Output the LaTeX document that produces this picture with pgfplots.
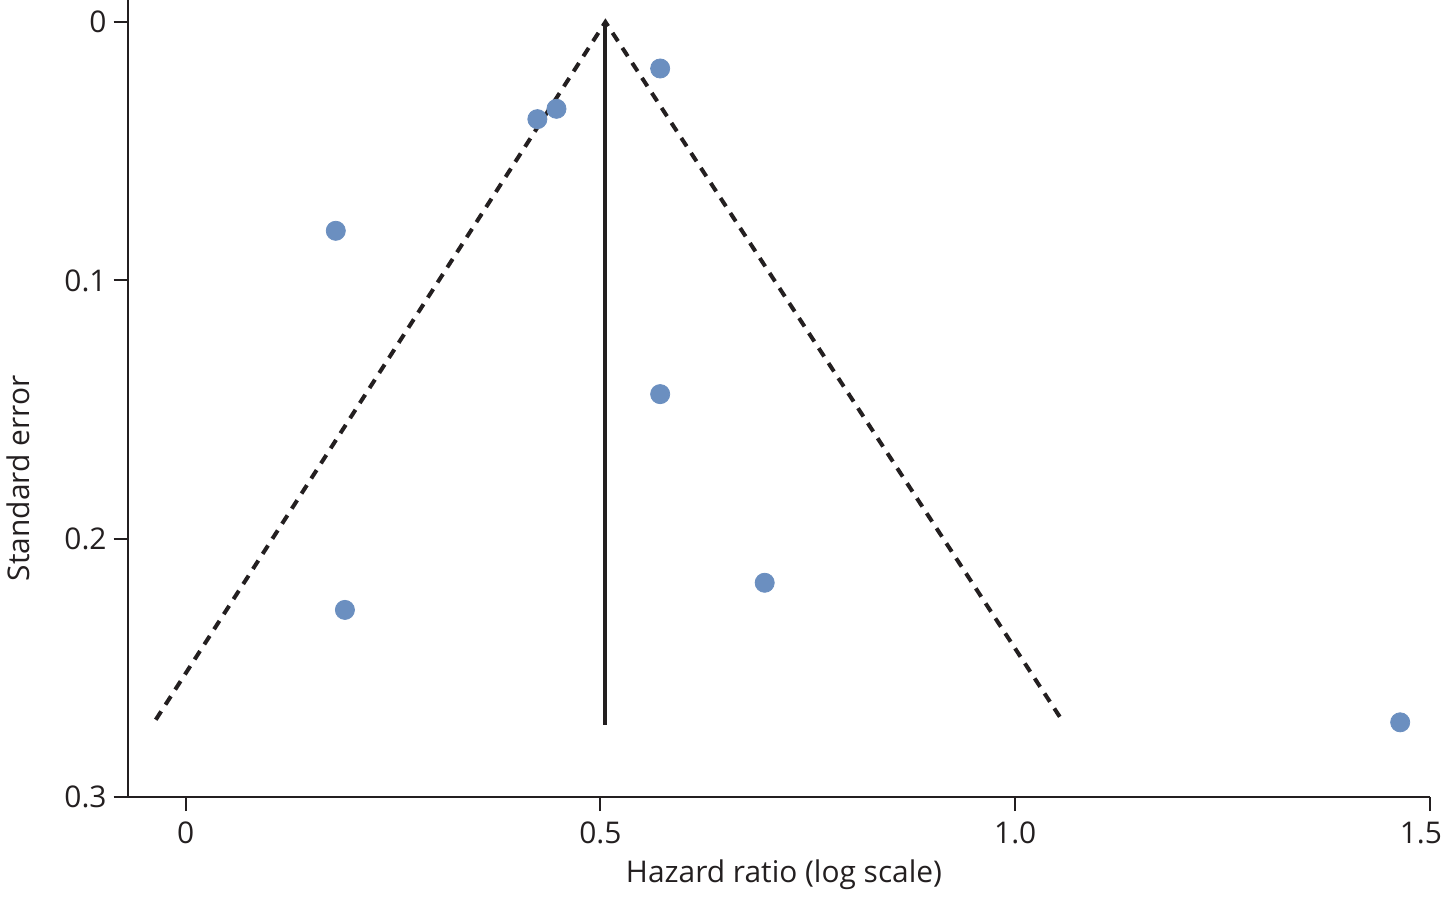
\documentclass[border=0pt]{standalone}
\usepackage{pgfplots}
\pgfplotsset{compat=1.18}
\usepackage{fontspec}
\setmainfont{Open Sans}
\definecolor{dot}{HTML}{6B8FC0}
\definecolor{ax}{HTML}{231F20}
\begin{document}
\begin{tikzpicture}
\begin{axis}[
  name=ax,
  scale only axis,
  width=653.5pt, height=400pt,
  xmin=-0.070, xmax=1.5,
  ymin=-0.0085, ymax=0.3,
  y dir=reverse,
  axis x line*=bottom,
  axis y line*=left,
  axis line style={ax, line width=1pt, -},
  xtick={0,0.5,1,1.5}, xticklabels={0,0.5,1.0,\makebox[12pt][r]{1.5}},
  ytick={0,0.1,0.2,0.3}, yticklabels={0,0.1,0.2,0.3},
  tick align=outside,
  major tick length=7pt,
  tick style={ax, line width=1pt},
  ticklabel style={font=\fontsize{15}{18}\selectfont, text=ax},
  xticklabel style={yshift=-2pt},
  label style={font=\fontsize{15}{18}\selectfont, text=ax},
  xlabel={Hazard ratio (log scale)},
  ylabel={Standard error},
  xlabel style={at={(axis description cs:0.504,-0.0975)}, anchor=center},
  ylabel style={at={(axis description cs:-0.084,0.4)}, anchor=center, rotate=0},
  clip=false,
]
\addplot[ax, line width=2pt, dash pattern=on 5pt off 4pt] coordinates {(-0.036,0.270) (0.506,0) (1.056,0.270)};
\addplot[ax, line width=2pt] coordinates {(0.506,0) (0.506,0.272)};
\addplot[only marks, mark=*, mark size=4.8pt, color=dot, mark options={fill=dot, draw=dot}] coordinates {
(0.572,0.018) (0.447,0.0336) (0.424,0.0376) (0.181,0.0808) (0.572,0.144) (0.698,0.217) (0.192,0.2275) (1.464,0.271)};
\end{axis}
\pgfresetboundingbox
\path[use as bounding box] (ax.outer south west) rectangle ([xshift=8pt]ax.north east);
\end{tikzpicture}
\end{document}
